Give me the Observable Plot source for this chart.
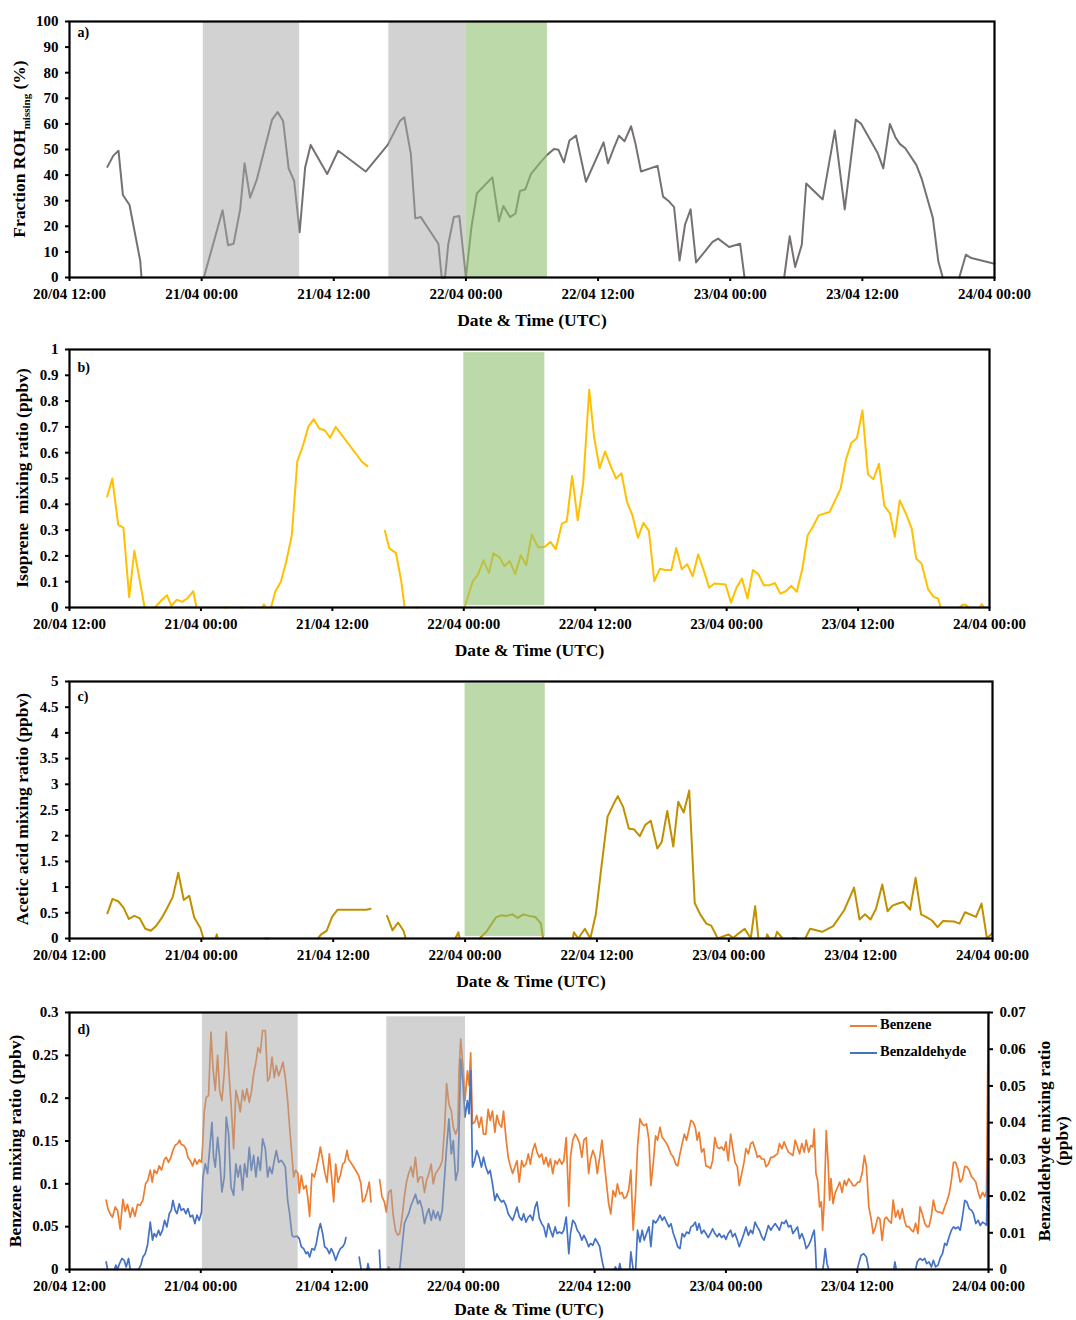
<!DOCTYPE html>
<html><head><meta charset="utf-8">
<script src="https://cdn.jsdelivr.net/npm/d3@7"></script>
<script src="https://cdn.jsdelivr.net/npm/@observablehq/plot@0.6"></script>
<style>
body{margin:0;background:#fff;}
#chart{position:relative;width:1076px;height:1320px;}
#chart svg{position:absolute;left:0;overflow:visible;}
</style></head><body><div id="chart"></div>
<script>
// ---------- time axis ----------
const startUTC = Date.UTC(2021, 3, 20, 12);           // 20/04 12:00 UTC
const toDate = h => new Date(startUTC + h * 3600e3);    // hours since start -> Date
const xTickHours = [0, 12, 24, 36, 48, 60, 72, 84];
const xTickLabels = ["20/04 12:00","21/04 00:00","21/04 12:00","22/04 00:00","22/04 12:00","23/04 00:00","23/04 12:00","24/04 00:00"];
const xTitle = "Date & Time (UTC)";

// ---------- shaded periods [startHour, endHour, yLow, yHigh] ----------
const aGrey = [[12.15, 20.9, 0, 100], [29.0, 36.0, 0, 100]];
const aGreen = [[36.0, 43.4, 0, 100]];
const bGreen = [[36.0, 43.4, 0.007, 0.988]];
const cGreen = [[36.0, 43.3, 0.04, 4.96]];
const dGrey = [[12.15, 20.9, 0, 0.3], [29.0, 36.2, 0, 0.295]];

// ---------- a) Fraction ROH missing (%) ----------
const aTicks = [0,10,20,30,40,50,60,70,80,90,100];
const aTickLabels = ["0","10","20","30","40","50","60","70","80","90","100"];
const rohMissing = [[3.44,43.2],[3.98,47.6],[4.45,49.5],[4.85,32.2],[5.45,28.3],[6.42,6.6],[6.54,0],[9,null],
[12.2,0],[13.9,26.3],[14.4,12.6],[14.9,13.2],[15.5,26.6],[15.9,44.6],[16.4,31.2],[17.0,38.1],[18.4,61.7],[18.9,64.6],[19.4,61.1],[19.9,42.6],[20.4,37.7],[20.9,17.7],[21.4,43],[21.9,51.8],[23.4,40.4],[24.4,49.5],[26.9,41.4],[28.9,51.8],[30.0,61.1],[30.4,62.6],[31.0,48.2],[31.4,23.1],[31.9,23.6],[33.5,13.2],[33.8,0],[34.1,0],[34.4,13.1],[34.9,23.6],[35.4,24],[36.0,0],[36.5,19.7],[37.0,32.9],[38.4,39.1],[39.0,22],[39.4,27.9],[40.0,23.6],[40.5,25],[40.9,33.8],[41.4,34.5],[41.9,40.4],[42.7,44.7],[43.4,48],[44.0,50.2],[44.4,49.9],[44.9,45],[45.4,53.5],[46.0,55.4],[46.9,37.4],[48.5,52.8],[48.9,44.6],[49.4,50.2],[49.9,55.4],[50.4,53.2],[51.0,59.1],[51.4,52.2],[51.9,41.4],[53.4,43.6],[53.9,31.6],[54.4,29.9],[54.9,27.5],[55.4,6.6],[55.9,20.7],[56.4,26.6],[56.9,5.9],[58.4,13.9],[58.9,15.2],[59.9,11.9],[60.9,13.2],[61.3,0],[63,null],
[64.9,0],[65.4,16.1],[65.9,4.1],[66.5,12.8],[66.9,36.7],[68.4,30.5],[69.5,57.4],[70.4,26.6],[71.4,61.7],[71.9,60],[73.4,48.5],[73.9,42.6],[74.5,60],[75.0,54.8],[75.4,52.2],[75.9,50.5],[76.9,44],[77.4,38.4],[78.4,23.3],[78.9,6.3],[79.3,0],[80,null],
[80.8,0],[81.4,8.9],[81.9,7.6],[84,5.4]];

// ---------- b) Isoprene (ppbv) ----------
const bTicks = [0,0.1,0.2,0.3,0.4,0.5,0.6,0.7,0.8,0.9,1];
const bTickLabels = ["0","0.1","0.2","0.3","0.4","0.5","0.6","0.7","0.8","0.9","1"];
const isoprene = [[3.44,0.43],[3.91,0.50],[4.45,0.32],[4.92,0.31],[5.45,0.04],[5.92,0.22],[6.39,0.11],[6.86,0],[7.3,null],
[7.8,0],[8.36,0.026],[8.9,0.048],[9.3,0.006],[9.8,0.03],[10.3,0.022],[10.8,0.037],[11.3,0.063],[11.6,0],[12,null],
[14.2,0],[14.35,0],[14.5,null],[15.7,0],[15.85,0],[16,null],
[17.6,0],[17.75,0.012],[17.95,0],[18.1,null],
[18.4,0],[18.8,0.063],[19.3,0.10],[19.8,0.18],[20.3,0.28],[20.8,0.567],[21.3,0.625],[21.8,0.70],[22.3,0.73],[22.8,0.694],[23.3,0.687],[23.8,0.658],[24.3,0.70],[26.7,0.565],[27.2,0.548],[28,null],
[28.8,0.297],[29.2,0.229],[29.8,0.212],[30.3,0.10],[30.6,0],[31,null],[31.6,0],[31.75,0],[32,null],
[36.07,0],[36.8,0.10],[37.3,0.128],[37.8,0.183],[38.3,0.134],[38.7,0.21],[39.3,0.193],[39.7,0.16],[40.2,0.18],[40.7,0.129],[41.2,0.203],[41.7,0.164],[42.2,0.283],[42.8,0.233],[43.4,0.235],[43.9,0.254],[44.4,0.226],[44.96,0.325],[45.4,0.334],[45.9,0.51],[46.4,0.338],[46.9,0.48],[47.45,0.844],[47.9,0.66],[48.4,0.54],[48.9,0.605],[49.4,0.55],[49.9,0.50],[50.4,0.52],[50.9,0.409],[51.4,0.357],[51.9,0.27],[52.4,0.328],[52.9,0.297],[53.4,0.102],[53.9,0.15],[54.4,0.145],[54.95,0.145],[55.4,0.231],[55.9,0.148],[56.4,0.168],[56.9,0.121],[57.4,0.206],[57.9,0.145],[58.4,0.077],[58.9,0.093],[59.9,0.089],[60.4,0.019],[60.9,0.077],[61.4,0.112],[61.9,0.035],[62.4,0.145],[62.9,0.129],[63.4,0.086],[63.9,0.086],[64.4,0.095],[64.9,0.054],[65.4,0.063],[65.9,0.084],[66.4,0.061],[66.9,0.147],[67.4,0.28],[67.9,0.315],[68.4,0.357],[69.4,0.37],[69.9,0.415],[70.4,0.46],[70.9,0.574],[71.4,0.639],[71.9,0.657],[72.4,0.764],[72.9,0.516],[73.4,0.497],[73.9,0.557],[74.4,0.394],[74.9,0.366],[75.35,0.274],[75.8,0.415],[76.4,0.361],[76.9,0.306],[77.3,0.19],[77.8,0.17],[78.4,0.07],[78.9,0.041],[79.3,0.035],[79.55,0],[80,null],
[81.3,0],[81.5,0.01],[81.8,0.012],[82.1,0],[82.5,null],[83.1,0],[83.3,0.013],[83.5,0]];

// ---------- c) Acetic acid (ppbv) ----------
const cTicks = [0,0.5,1,1.5,2,2.5,3,3.5,4,4.5,5];
const cTickLabels = ["0","0.5","1","1.5","2","2.5","3","3.5","4","4.5","5"];
const aceticAcid = [[3.45,0.49],[3.92,0.77],[4.45,0.72],[4.92,0.60],[5.4,0.38],[5.9,0.44],[6.4,0.39],[6.9,0.19],[7.4,0.15],[7.9,0.25],[8.4,0.40],[8.9,0.60],[9.4,0.81],[9.9,1.28],[10.4,0.75],[10.9,0.83],[11.35,0.41],[11.9,0.21],[12.2,0],[12.8,null],
[13.3,0],[13.4,0.08],[13.5,0],[14,null],[17.8,0],[18.1,0],[18.3,null],
[22.6,0],[22.9,0.08],[23.4,0.15],[23.9,0.42],[24.4,0.56],[27.0,0.56],[27.4,0.58],[28,null],
[28.9,0.44],[29.4,0.16],[29.9,0.31],[30.4,0.15],[30.6,0],[31,null],
[35.1,0],[35.4,0.12],[35.5,0],[36,null],
[37.3,0],[37.9,0.12],[38.4,0.28],[38.8,0.41],[39.3,0.45],[39.8,0.44],[40.3,0.47],[40.8,0.40],[41.3,0.47],[41.8,0.44],[42.4,0.42],[42.9,0.29],[43.1,0],[44,null],
[45.8,0],[45.9,0.12],[46.3,0],[46.9,0.19],[47.4,0],[47.9,0.47],[48.4,1.38],[48.97,2.37],[49.5,2.61],[49.9,2.77],[50.4,2.55],[50.9,2.14],[51.4,2.12],[51.9,1.99],[52.4,2.21],[52.9,2.29],[53.5,1.75],[53.9,1.88],[54.4,2.48],[54.95,1.79],[55.4,2.66],[55.9,2.45],[56.4,2.88],[56.9,0.69],[57.4,0.47],[57.96,0.29],[58.4,0.25],[59.0,0],[59.97,0.08],[60.4,0.01],[60.9,0.10],[61.45,0.19],[62.0,0],[62.4,0.63],[62.7,0],[63.1,null],
[63.4,0],[63.5,0.08],[63.7,0],[63.9,null],[64.2,0],[64.4,0.13],[64.9,0],[65.3,null],[65.8,0],[66.0,0.01],[66.2,0],[66.5,null],
[66.95,0],[67.4,0.19],[68.5,0.13],[69.5,0.24],[70.5,0.55],[71.4,0.99],[71.9,0.37],[72.4,0.47],[72.9,0.37],[73.4,0.58],[73.97,1.05],[74.45,0.53],[74.9,0.64],[75.4,0.68],[75.9,0.71],[76.5,0.56],[77.0,1.18],[77.5,0.47],[77.95,0.42],[78.5,0.35],[79.0,0.22],[79.5,0.34],[80.5,0.33],[81.0,0.29],[81.5,0.51],[82.5,0.42],[83.0,0.68],[83.5,0],[83.95,0.10]];

// ---------- d) Benzene (left axis, ppbv) and Benzaldehyde (right axis, ppbv) ----------
const dTicks = [0,0.05,0.1,0.15,0.2,0.25,0.3];
const dTickLabels = ["0","0.05","0.1","0.15","0.2","0.25","0.3"];
const dRightTicks = [0,0.01,0.02,0.03,0.04,0.05,0.06,0.07];
const dRightTickLabels = ["0","0.01","0.02","0.03","0.04","0.05","0.06","0.07"];
const seriesNames = ["Benzene","Benzaldehyde"];
const benzene = [[3.35,0.081],[3.51,0.071],[3.72,0.065],[3.93,0.061],[4.18,0.073],[4.39,0.069],[4.63,0.047],[4.88,0.082],[5.09,0.068],[5.30,0.076],[5.55,0.061],[5.76,0.072],[5.98,0.062],[6.22,0.076],[6.46,0.075],[6.71,0.081],[6.95,0.100],[7.16,0.104],[7.38,0.116],[7.56,0.102],[7.74,0.116],[7.99,0.112],[8.20,0.121],[8.41,0.116],[8.66,0.128],[8.84,0.131],[9.05,0.125],[9.27,0.131],[9.45,0.139],[9.66,0.145],[9.88,0.147],[10.06,0.151],[10.21,0.146],[10.43,0.145],[10.64,0.141],[10.82,0.131],[11.04,0.127],[11.25,0.121],[11.46,0.129],[11.65,0.123],[11.86,0.128],[12.07,0.125],[12.16,0.143],[12.32,0.185],[12.5,0.201],[12.71,0.203],[12.93,0.277],[13.11,0.236],[13.32,0.209],[13.54,0.250],[13.72,0.209],[13.93,0.197],[14.15,0.230],[14.33,0.277],[14.54,0.236],[14.76,0.195],[15.0,0.141],[15.21,0.209],[15.4,0.199],[15.61,0.184],[15.82,0.209],[16.0,0.197],[16.22,0.211],[16.43,0.195],[16.62,0.207],[16.83,0.228],[17.04,0.242],[17.23,0.259],[17.44,0.253],[17.65,0.279],[17.9,0.279],[18.11,0.220],[18.29,0.224],[18.51,0.248],[18.72,0.224],[18.9,0.238],[19.12,0.226],[19.33,0.234],[19.51,0.242],[19.73,0.224],[19.94,0.197],[20.12,0.166],[20.34,0.131],[20.49,0.108],[20.67,0.116],[20.88,0.112],[21.0,0.089],[21.19,0.110],[21.4,0.094],[21.62,0.098],[21.77,0.085],[21.95,0.062],[22.16,0.112],[22.38,0.108],[22.56,0.118],[22.77,0.131],[22.93,0.143],[23.14,0.128],[23.32,0.114],[23.54,0.102],[23.75,0.135],[23.93,0.112],[24.15,0.079],[24.33,0.123],[24.54,0.102],[24.76,0.110],[24.97,0.123],[25.15,0.125],[25.37,0.139],[25.5,0.129],[25.96,0.12],[26.42,0.110],[26.63,0.101],[26.79,0.079],[26.97,0.081],[27.18,0.090],[27.4,0.102],[27.55,0.079],[27.9,null],
[28.35,0.105],[28.56,0.085],[28.78,0.079],[28.96,0.067],[29.17,0.090],[29.39,0.093],[29.57,0.065],[29.79,0.046],[30.0,0.040],[30.18,0.042],[30.4,0.061],[30.61,0.085],[30.8,0.102],[31.0,0.112],[31.22,0.12],[31.4,0.108],[31.62,0.131],[31.84,0.102],[32.02,0.108],[32.24,0.108],[32.45,0.090],[32.63,0.104],[32.85,0.112],[33.06,0.123],[33.25,0.100],[33.46,0.112],[33.67,0.116],[33.86,0.12],[34.07,0.127],[34.29,0.166],[34.47,0.217],[34.68,0.193],[34.9,0.185],[35.08,0.166],[35.3,0.158],[35.5,0.166],[35.6,0.232],[35.76,0.269],[35.97,0.236],[36.15,0.197],[36.37,0.232],[36.52,0.215],[36.67,0.253],[36.83,0.170],[37.04,0.172],[37.22,0.180],[37.44,0.166],[37.65,0.178],[37.84,0.158],[38.05,0.158],[38.27,0.187],[38.45,0.174],[38.66,0.185],[38.88,0.16],[39.06,0.180],[39.28,0.170],[39.49,0.166],[39.67,0.185],[39.89,0.154],[40.1,0.131],[40.29,0.121],[40.5,0.112],[40.71,0.12],[40.9,0.127],[41.11,0.102],[41.33,0.127],[41.51,0.12],[41.72,0.123],[41.94,0.135],[42.12,0.123],[42.34,0.139],[42.55,0.147],[42.73,0.137],[42.95,0.131],[43.16,0.135],[43.35,0.123],[43.56,0.131],[43.77,0.12],[43.96,0.129],[44.17,0.112],[44.39,0.127],[44.57,0.123],[44.78,0.129],[45.0,0.123],[45.18,0.127],[45.4,0.154],[45.64,0.074],[45.79,0.131],[46.0,0.151],[46.22,0.158],[46.41,0.154],[46.62,0.147],[46.83,0.131],[47.02,0.151],[47.23,0.154],[47.45,0.112],[47.63,0.129],[47.84,0.139],[48.06,0.131],[48.24,0.112],[48.46,0.131],[48.67,0.151],[48.86,0.127],[49.07,0.102],[49.28,0.077],[49.47,0.065],[49.68,0.092],[49.9,0.085],[50.08,0.100],[50.3,0.088],[50.51,0.090],[50.69,0.083],[50.91,0.085],[51.12,0.094],[51.31,0.116],[51.52,0.046],[51.73,0.085],[51.92,0.143],[52.14,0.176],[52.35,0.170],[52.53,0.168],[52.74,0.170],[52.96,0.151],[53.14,0.098],[53.35,0.123],[53.57,0.156],[53.75,0.151],[53.97,0.166],[54.18,0.154],[54.37,0.151],[54.58,0.147],[54.79,0.141],[54.98,0.135],[55.19,0.131],[55.41,0.123],[55.59,0.121],[55.8,0.135],[56.0,0.147],[56.2,0.158],[56.4,0.151],[56.63,0.164],[56.8,0.174],[57.0,0.172],[57.2,0.166],[57.37,0.151],[57.55,0.160],[57.77,0.137],[57.98,0.141],[58.17,0.121],[58.38,0.120],[58.59,0.118],[58.78,0.127],[58.99,0.154],[59.2,0.143],[59.39,0.141],[59.6,0.143],[59.82,0.139],[60.0,0.149],[60.21,0.127],[60.43,0.158],[60.61,0.143],[60.83,0.125],[61.04,0.120],[61.22,0.098],[61.44,0.112],[61.65,0.125],[61.83,0.141],[62.05,0.135],[62.26,0.147],[62.45,0.149],[62.66,0.141],[62.87,0.131],[63.06,0.133],[63.27,0.129],[63.49,0.129],[63.67,0.120],[63.88,0.123],[64.1,0.131],[64.28,0.131],[64.5,0.133],[64.71,0.135],[64.89,0.147],[65.11,0.141],[65.32,0.149],[65.5,0.143],[65.72,0.137],[65.93,0.135],[66.12,0.133],[66.33,0.151],[66.54,0.143],[66.73,0.135],[66.94,0.147],[67.16,0.137],[67.34,0.151],[67.56,0.137],[67.77,0.145],[67.95,0.143],[68.07,0.164],[68.23,0.112],[68.38,0.104],[68.56,0.073],[68.72,0.079],[68.84,0.046],[68.99,0.081],[69.17,0.162],[69.33,0.127],[69.48,0.081],[69.6,0.106],[69.79,0.077],[70.0,0.090],[70.21,0.096],[70.4,0.102],[70.61,0.090],[70.83,0.104],[71.0,0.098],[71.22,0.106],[71.44,0.102],[71.62,0.098],[71.83,0.098],[72.05,0.102],[72.23,0.102],[72.45,0.112],[72.66,0.133],[72.84,0.120],[73.06,0.073],[73.27,0.059],[73.46,0.042],[73.67,0.050],[73.88,0.061],[74.07,0.059],[74.28,0.034],[74.5,0.059],[74.68,0.061],[74.89,0.057],[75.11,0.054],[75.29,0.081],[75.5,0.061],[75.72,0.069],[75.9,0.059],[76.12,0.071],[76.33,0.057],[76.51,0.050],[76.73,0.050],[76.94,0.046],[77.13,0.044],[77.34,0.054],[77.55,0.042],[77.74,0.073],[77.95,0.065],[78.17,0.054],[78.35,0.050],[78.56,0.050],[78.78,0.063],[78.96,0.081],[79.17,0.069],[79.39,0.067],[79.57,0.067],[79.79,0.065],[80.0,0.073],[80.18,0.079],[80.4,0.088],[80.61,0.104],[80.8,0.125],[81.0,0.125],[81.22,0.116],[81.41,0.102],[81.62,0.106],[81.83,0.120],[82.02,0.120],[82.23,0.116],[82.45,0.108],[82.63,0.106],[82.84,0.102],[83.06,0.090],[83.24,0.083],[83.46,0.090],[83.67,0.085],[83.82,0.092],[83.98,0.298]];
const benzaldehyde = [[3.35,0.0021],[3.48,0],[3.8,null],[4.1,0],[4.24,0.0012],[4.39,0],[4.57,0.0016],[4.79,0.003],[5.0,0.0025],[5.18,0.0007],[5.4,0.003],[5.55,0],[5.9,null],
[6.31,0],[6.52,0.0012],[6.71,0.0034],[6.92,0.0043],[7.13,0.0066],[7.38,0.0129],[7.59,0.008],[7.74,0.0098],[7.93,0.0089],[8.14,0.0107],[8.29,0.0093],[8.5,0.0107],[8.69,0.0134],[8.9,0.0116],[9.12,0.0152],[9.3,0.0161],[9.45,0.0188],[9.66,0.0161],[9.82,0.0152],[10.03,0.0179],[10.21,0.0161],[10.43,0.0166],[10.64,0.0152],[10.82,0.0166],[11.04,0.0143],[11.25,0.0148],[11.46,0.0125],[11.65,0.0148],[11.86,0.0134],[12.07,0.0157],[12.2,0.0252],[12.41,0.0288],[12.62,0.0261],[12.8,0.0324],[13.02,0.0401],[13.17,0.0306],[13.32,0.0279],[13.54,0.036],[13.72,0.0306],[13.93,0.0211],[14.15,0.0252],[14.33,0.0415],[14.54,0.037],[14.76,0.0225],[15.0,0.0202],[15.21,0.0288],[15.4,0.0252],[15.61,0.0283],[15.82,0.0216],[16.0,0.0288],[16.22,0.0252],[16.43,0.0333],[16.62,0.027],[16.83,0.0311],[17.04,0.0252],[17.23,0.0306],[17.44,0.027],[17.65,0.0356],[17.9,0.0329],[18.11,0.0252],[18.29,0.0279],[18.51,0.0261],[18.72,0.0297],[18.9,0.0324],[19.12,0.0292],[19.33,0.0297],[19.51,0.0292],[19.73,0.0279],[19.94,0.0188],[20.12,0.0152],[20.34,0.0093],[20.49,0.0089],[20.79,0.0091],[21.0,0.0084],[21.19,0.0062],[21.4,0.0057],[21.62,0.0043],[21.77,0.0048],[21.95,0.0034],[22.16,0.0057],[22.38,0.0053],[22.56,0.0071],[22.77,0.0107],[22.93,0.0125],[23.14,0.0098],[23.32,0.0062],[23.54,0.0057],[23.75,0.0043],[23.93,0.0057],[24.15,0.0043],[24.33,0.0025],[24.54,0.0043],[24.76,0.0057],[24.97,0.0062],[25.15,0.0071],[25.27,0.0087],[25.8,null],
[26.48,0.0034],[26.66,0],[27.0,null],[27.2,0],[27.28,0.0016],[27.4,0],[27.8,null],[28.32,0.0053],[28.41,0],[28.8,null],[29.1,0],[29.17,0.0007],[29.3,0],[29.7,null],
[30.18,0],[30.4,0.0062],[30.61,0.0125],[30.8,0.0139],[31.0,0.0152],[31.22,0.0175],[31.4,0.0188],[31.62,0.0205],[31.84,0.0179],[32.02,0.0188],[32.24,0.0166],[32.45,0.0125],[32.63,0.0148],[32.85,0.0166],[33.06,0.0134],[33.25,0.0161],[33.46,0.0139],[33.67,0.0157],[33.86,0.0134],[34.07,0.0161],[34.29,0.0256],[34.47,0.0333],[34.68,0.041],[34.9,0.0315],[35.08,0.0351],[35.3,0.0243],[35.5,0.027],[35.6,0.037],[35.76,0.0573],[35.97,0.0505],[36.15,0.0415],[36.37,0.046],[36.52,0.0424],[36.67,0.0542],[36.83,0.0279],[37.04,0.0297],[37.22,0.0324],[37.44,0.0306],[37.65,0.0279],[37.84,0.0306],[38.05,0.0279],[38.27,0.0261],[38.45,0.027],[38.66,0.0234],[38.88,0.0188],[39.06,0.0206],[39.28,0.0193],[39.49,0.0184],[39.67,0.0188],[39.89,0.0175],[40.1,0.0152],[40.29,0.0143],[40.5,0.0134],[40.71,0.0152],[40.9,0.017],[41.11,0.0143],[41.33,0.0134],[41.51,0.0152],[41.72,0.0129],[41.94,0.0143],[42.12,0.0148],[42.34,0.0134],[42.55,0.017],[42.73,0.0184],[42.95,0.0139],[43.16,0.0125],[43.35,0.0116],[43.56,0.0089],[43.77,0.0125],[43.96,0.0107],[44.17,0.0089],[44.39,0.0116],[44.57,0.0098],[44.78,0.0102],[45.0,0.0098],[45.18,0.0107],[45.4,0.0143],[45.64,0.0043],[45.79,0.0098],[46.0,0.0134],[46.22,0.0125],[46.41,0.0107],[46.62,0.0098],[46.83,0.008],[47.02,0.0093],[47.23,0.008],[47.45,0.0062],[47.63,0.0071],[47.84,0.0066],[48.06,0.0084],[48.24,0.0075],[48.46,0.0062],[48.67,0.0025],[48.86,0],[49.3,null],
[49.8,0],[49.9,0.0007],[50.0,0],[50.1,null],[50.2,0],[50.3,0.0016],[50.4,0],[50.8,null],[51.2,0],[51.31,0.0048],[51.52,0],[51.6,null],
[51.75,0],[51.92,0.0107],[52.14,0.0075],[52.35,0.0107],[52.53,0.008],[52.74,0.0098],[52.96,0.0116],[53.14,0.0062],[53.35,0.0134],[53.57,0.0127],[53.75,0.0134],[53.97,0.0148],[54.18,0.0134],[54.37,0.0143],[54.58,0.0129],[54.79,0.0116],[54.98,0.0125],[55.19,0.0098],[55.41,0.008],[55.59,0.0062],[55.8,0.0057],[56.0,0.0098],[56.2,0.0089],[56.4,0.0102],[56.63,0.0098],[56.8,0.0116],[57.0,0.012],[57.2,0.0129],[57.37,0.0107],[57.55,0.0125],[57.77,0.0098],[57.98,0.0107],[58.17,0.0098],[58.38,0.0087],[58.59,0.0098],[58.78,0.0111],[58.99,0.0098],[59.2,0.0089],[59.39,0.0098],[59.6,0.0087],[59.82,0.0093],[60.0,0.0082],[60.21,0.0098],[60.43,0.0107],[60.61,0.0089],[60.83,0.0098],[61.04,0.008],[61.22,0.0062],[61.44,0.008],[61.65,0.0098],[61.83,0.0116],[62.05,0.0093],[62.26,0.0107],[62.45,0.0098],[62.66,0.0129],[62.87,0.0116],[63.06,0.0107],[63.27,0.0089],[63.49,0.008],[63.67,0.0098],[63.88,0.012],[64.1,0.0107],[64.28,0.0116],[64.5,0.0125],[64.71,0.0116],[64.89,0.0107],[65.11,0.0129],[65.32,0.0125],[65.5,0.0134],[65.72,0.0116],[65.93,0.012],[66.12,0.0098],[66.33,0.0107],[66.54,0.0116],[66.73,0.0084],[66.94,0.0098],[67.16,0.008],[67.34,0.0057],[67.56,0.0066],[67.77,0.008],[67.95,0.0098],[68.07,0.0107],[68.17,0.0062],[68.26,0],[68.5,null],
[68.85,0],[68.93,0.0016],[69.08,0.0057],[69.24,0.0016],[69.39,0],[70,null],
[72.0,0],[72.14,0.0016],[72.35,0.0039],[72.6,0.0043],[72.84,0.0034],[73.06,0],[74,null],
[75.35,0],[75.44,0.0021],[75.57,0],[76,null],
[77.34,0],[77.49,0.0021],[77.74,0.003],[77.95,0.0025],[78.17,0.003],[78.35,0.0016],[78.56,0.0021],[78.78,0.0007],[78.96,0.0025],[79.17,0.0007],[79.39,0.0012],[79.57,0.003],[79.79,0.0043],[80.0,0.0071],[80.18,0.0066],[80.4,0.0089],[80.61,0.0107],[80.8,0.0116],[81.0,0.0111],[81.22,0.0116],[81.41,0.0107],[81.62,0.0143],[81.83,0.0188],[82.02,0.0184],[82.23,0.0166],[82.45,0.0161],[82.63,0.0152],[82.84,0.0125],[83.06,0.0134],[83.24,0.012],[83.46,0.0129],[83.67,0.0125],[83.82,0.012],[83.98,0.0388]];

// ---------- rendering ----------
const FONT = "Liberation Serif, Times New Roman, serif";
const COL = {rohmissing:"#767171", isoprene:"#FFC000", acetic:"#BF9000", benzene:"#ED7D31", benzaldehyde:"#4472C4", grey:"#A6A6A6", green:"#8FC16F"};
const rightScale = 0.3 / 0.07; // benzaldehyde -> left-axis units
const chart = document.getElementById("chart");
const xTickDates = xTickHours.map(toDate);
const fmtX = d => xTickLabels[xTickHours.indexOf(Math.round((+d - startUTC) / 3600e3))];

function shadeMark(rows, color, opacity) {
  return Plot.rect(rows, {x1: d => toDate(d[0]), x2: d => toDate(d[1]), y1: d => d[2], y2: d => d[3], fill: color, fillOpacity: opacity});
}
function lineMark(rows, color, width, k = 1) {
  return Plot.line(rows, {x: d => toDate(d[0]), y: d => d[1] == null ? NaN : d[1] * k, stroke: color, strokeWidth: width, strokeLinejoin: "round"});
}

function panel(cfg) {
  const marks = [
    ...cfg.lines,
    ...cfg.shades,
    Plot.frame({stroke: "#000", strokeWidth: 2.2}),
    Plot.axisX(xTickDates, {anchor: "bottom", tickFormat: fmtX, tickSize: 4, tickPadding: 7, strokeWidth: 2, label: null}),
    Plot.axisY(cfg.yTicks, {anchor: "left", tickFormat: d => cfg.yLabels[cfg.yTicks.indexOf(d)], tickSize: 4, tickPadding: 7, strokeWidth: 2, label: null}),
    Plot.text([xTitle], {frameAnchor: "bottom", text: d => d, dy: cfg.titleDy, fontSize: 17.5, fontWeight: "bold"}),
    Plot.text([cfg.tag], {frameAnchor: "top-left", text: d => d, dx: 8, dy: cfg.tagDy, fontSize: 14, fontWeight: "bold", textAnchor: "start"}),
    ...(cfg.extra || [])
  ];
  const svg = Plot.plot({
    width: 1076, height: cfg.height,
    marginTop: cfg.mt, marginBottom: cfg.mb, marginLeft: 69, marginRight: cfg.mr,
    x: {type: "utc", domain: [toDate(0), toDate(84)]},
    y: {domain: cfg.yDomain},
    style: {fontFamily: FONT, fontSize: "15px", fontWeight: "bold", color: "#000", background: "transparent", overflow: "visible"},
    marks
  });
  svg.style.top = cfg.top + "px";
  chart.appendChild(svg);
  return svg;
}

function yTitle(svg, x, y, parts) {
  const t = d3.select(svg).append("text")
    .attr("transform", `translate(${x},${y}) rotate(-90)`)
    .attr("text-anchor", "middle").attr("dominant-baseline", "middle")
    .attr("font-family", FONT).attr("font-size", 17.5).attr("font-weight", "bold").attr("fill", "#000");
  parts.forEach(p => {
    const s = t.append("tspan").text(p.text);
    if (p.sub) s.attr("font-size", 11).attr("baseline-shift", "sub");
  });
}

// a)
const svgA = panel({top: 0, height: 332, mt: 21, mb: 55, mr: 82, yDomain: [0, 100], yTicks: aTicks, yLabels: aTickLabels,
  tag: "a)", tagDy: 6, titleDy: 48,
  lines: [lineMark(rohMissing, COL.rohmissing, 2)],
  shades: [shadeMark(aGrey, COL.grey, 0.5), shadeMark(aGreen, COL.green, 0.6)]});
yTitle(svgA, 21, 149, [{text: "Fraction ROH"}, {text: "missing", sub: true}, {text: " (%)"}]);

// b)
const svgB = panel({top: 332, height: 332, mt: 17, mb: 57, mr: 87, yDomain: [0, 1], yTicks: bTicks, yLabels: bTickLabels,
  tag: "b)", tagDy: 13, titleDy: 48,
  lines: [lineMark(isoprene, COL.isoprene, 2)],
  shades: [shadeMark(bGreen, COL.green, 0.6)]});
yTitle(svgB, 24, 146, [{text: "Isoprene  mixing ratio (ppbv)"}]);

// c)
const svgC = panel({top: 664, height: 332, mt: 17, mb: 58, mr: 84, yDomain: [0, 5], yTicks: cTicks, yLabels: cTickLabels,
  tag: "c)", tagDy: 10, titleDy: 48,
  lines: [lineMark(aceticAcid, COL.acetic, 2)],
  shades: [shadeMark(cGreen, COL.green, 0.6)]});
yTitle(svgC, 24, 145, [{text: "Acetic acid mixing ratio (ppbv)"}]);

// d)
const rightTicksScaled = dRightTicks.map(v => v * rightScale);
const svgD = panel({top: 996, height: 324, mt: 16, mb: 51, mr: 88, yDomain: [0, 0.3], yTicks: dTicks, yLabels: dTickLabels,
  tag: "d)", tagDy: 12, titleDy: 45,
  lines: [lineMark(benzene, COL.benzene, 1.7), lineMark(benzaldehyde, COL.benzaldehyde, 1.7, rightScale)],
  shades: [shadeMark(dGrey, COL.grey, 0.5)],
  extra: [Plot.axisY(rightTicksScaled, {anchor: "right", tickFormat: d => dRightTickLabels[rightTicksScaled.indexOf(d)], tickSize: 4, tickPadding: 7, strokeWidth: 2, label: null})]});
yTitle(svgD, 17, 145, [{text: "Benzene mixing ratio (ppbv)"}]);
yTitle(svgD, 1046, 145, [{text: "Benzaldehyde mixing ratio"}]);
yTitle(svgD, 1064, 145, [{text: "(ppbv)"}]);

// legend for d)
const leg = d3.select(svgD).append("g").attr("font-family", FONT).attr("font-size", 14.5).attr("font-weight", "bold").attr("text-anchor", "start");
[[seriesNames[0], COL.benzene, 30], [seriesNames[1], COL.benzaldehyde, 57]].forEach(([name, color, y]) => {
  leg.append("line").attr("x1", 850).attr("x2", 877).attr("y1", y).attr("y2", y).attr("stroke", color).attr("stroke-width", 2);
  leg.append("text").attr("x", 880).attr("y", y).attr("text-anchor", "start").attr("dominant-baseline", "middle").attr("fill", "#000").text(name);
});
</script></body></html>
